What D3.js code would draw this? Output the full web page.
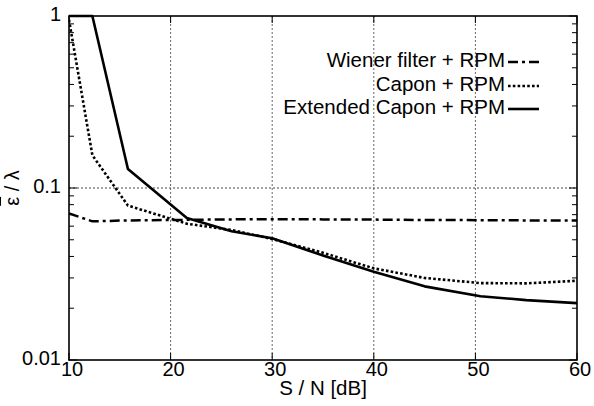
<!DOCTYPE html>
<html><head><meta charset="utf-8">
<script src="https://cdn.jsdelivr.net/npm/d3@7"></script>
<style>body{margin:0;background:#fff}svg{display:block}text{font-family:"Liberation Sans",Arial,sans-serif;fill:#000}</style>
</head><body>
<script>
const snr = [10, 12.3, 15.8, 21.6, 26, 30, 35, 40, 45, 50.5, 55, 60];
const wiener = [0.0711, 0.064, 0.0648, 0.0653, 0.0657, 0.0658, 0.0657, 0.0655, 0.0652, 0.065, 0.0648, 0.0647];
const capon = [0.95, 0.155, 0.079, 0.062, 0.057, 0.0505, 0.042, 0.0341, 0.0300, 0.0280, 0.0279, 0.0289];
const extCapon = [1.0, 1.0, 0.129, 0.067, 0.056, 0.051, 0.0405, 0.0326, 0.0268, 0.0235, 0.0223, 0.0214];
const seriesNames = ["Wiener filter + RPM", "Capon + RPM", "Extended Capon + RPM"];
const xTicks = [10, 20, 30, 40, 50, 60];
const yTicks = [0.01, 0.1, 1];
const yTickLabels = ["0.01", "0.1", "1"];

const W = 594, H = 406;
const m = {l: 69, r: 577, t: 16, b: 360};
const svg = d3.select("body").append("svg").attr("width", W).attr("height", H);
const x = d3.scaleLinear().domain([10, 60]).range([m.l, m.r]);
const y = d3.scaleLog().domain([0.01, 1]).range([m.b, m.t]);

svg.append("clipPath").attr("id", "clip").append("rect")
  .attr("x", m.l).attr("y", m.t - 2).attr("width", m.r - m.l).attr("height", m.b - m.t + 2);

// grid
const g = svg.append("g");
g.selectAll(".vg").data(xTicks.slice(1, -1)).enter().append("line")
  .attr("x1", d => x(d)).attr("x2", d => x(d)).attr("y1", m.t).attr("y2", m.b)
  .attr("stroke", "#666").attr("stroke-width", 1).attr("stroke-dasharray", "2,2");
g.selectAll(".hg").data([0.1]).enter().append("line")
  .attr("x1", m.l).attr("x2", m.r).attr("y1", d => y(d)).attr("y2", d => y(d))
  .attr("stroke", "#444").attr("stroke-width", 1).attr("stroke-dasharray", "2,2");

// ticks
const minor = [];
[0.01, 0.1].forEach(dec => { for (let k = 2; k <= 9; k++) minor.push(dec * k); });
const tk = svg.append("g").attr("stroke", "#000").attr("stroke-width", 1);
minor.forEach(v => {
  tk.append("line").attr("x1", m.l).attr("x2", m.l + 5).attr("y1", y(v)).attr("y2", y(v));
  tk.append("line").attr("x1", m.r).attr("x2", m.r - 5).attr("y1", y(v)).attr("y2", y(v));
});
yTicks.forEach(v => {
  tk.append("line").attr("x1", m.l).attr("x2", m.l + 8).attr("y1", y(v)).attr("y2", y(v));
  tk.append("line").attr("x1", m.r).attr("x2", m.r - 8).attr("y1", y(v)).attr("y2", y(v));
});
xTicks.forEach(v => {
  tk.append("line").attr("x1", x(v)).attr("x2", x(v)).attr("y1", m.b).attr("y2", m.b - 7);
  tk.append("line").attr("x1", x(v)).attr("x2", x(v)).attr("y1", m.t).attr("y2", m.t + 7);
});

// lines
const line = d3.line().x((d, i) => x(snr[i])).y(d => y(d));
const lg = svg.append("g").attr("clip-path", "url(#clip)").attr("fill", "none").attr("stroke", "#000");
const styles = [
  {w: 2.5, dash: "10,4,3,4"},
  {w: 2.6, dash: "2.6,2.2"},
  {w: 2.6, dash: null}
];
[wiener, capon, extCapon].forEach((s, i) => {
  const p = lg.append("path").attr("d", line(s)).attr("stroke-width", styles[i].w)
    .attr("stroke-linejoin", "round");
  if (styles[i].dash) p.attr("stroke-dasharray", styles[i].dash);
});

// frame
svg.append("rect").attr("x", m.l).attr("y", m.t).attr("width", m.r - m.l).attr("height", m.b - m.t)
  .attr("fill", "none").attr("stroke", "#000").attr("stroke-width", 1.6);

// tick labels
svg.selectAll(".xl").data(xTicks).enter().append("text")
  .attr("x", d => x(d) + 3).attr("y", 376).attr("text-anchor", "middle")
  .attr("font-size", 20).text(d => d);
svg.selectAll(".yl").data(yTicks).enter().append("text")
  .attr("x", 61).attr("y", d => y(d) + 5).attr("text-anchor", "end")
  .attr("font-size", 20).text((d, i) => yTickLabels[i]);

// axis labels
svg.append("text").attr("x", (m.l + m.r) / 2).attr("y", 395).attr("text-anchor", "middle")
  .attr("font-size", 20.5).text("S / N [dB]");
const yl = svg.append("text").attr("transform", "translate(19," + ((m.t + m.b) / 2) + ") rotate(-90)")
  .attr("text-anchor", "middle").attr("font-size", 20);
yl.append("tspan").attr("text-decoration", "overline").text("ε");
yl.append("tspan").text(" / λ");

// legend
const legY = [62, 86, 109];
seriesNames.forEach((n, i) => {
  svg.append("text").attr("x", 505).attr("y", legY[i] + 5).attr("text-anchor", "end")
    .attr("font-size", 20.5).text(n);
  const l = svg.append("line").attr("x1", 508).attr("x2", 539).attr("y1", legY[i]).attr("y2", legY[i])
    .attr("stroke", "#000").attr("stroke-width", styles[i].w);
  if (styles[i].dash) l.attr("stroke-dasharray", styles[i].dash);
});
</script>
</body></html>
